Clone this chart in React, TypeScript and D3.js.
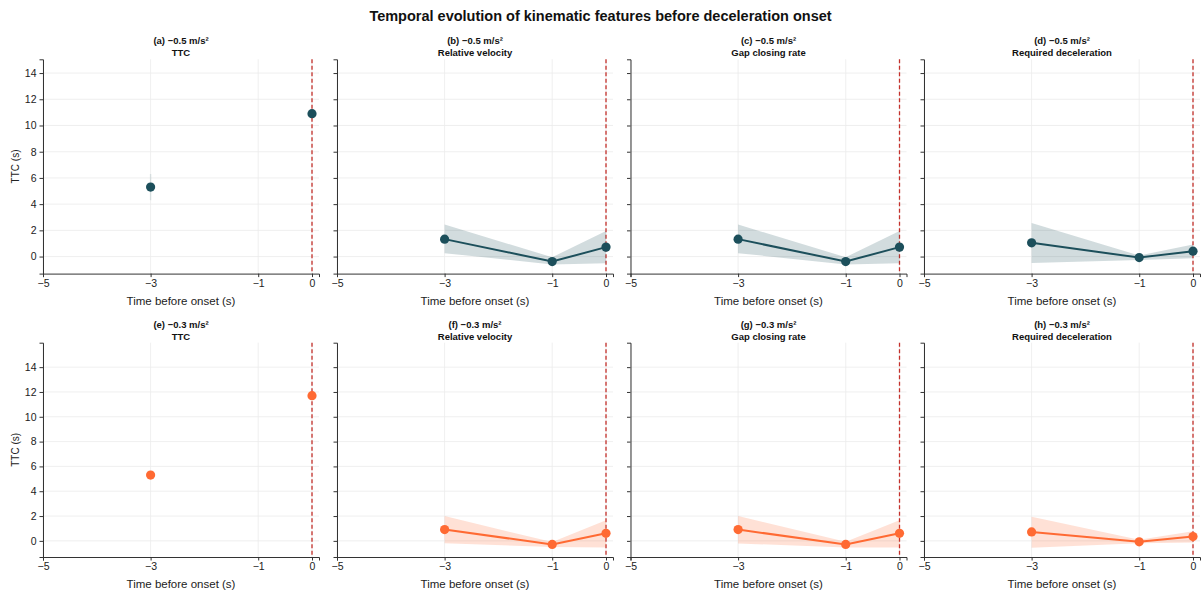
import React, { useRef, useEffect } from 'react';
import * as d3 from 'd3';

// time points (s before onset)
const timePoints = [-3, -1, 0];
const xTicks = [-5, -3, -1, 0];
const yTicks = [0, 2, 4, 6, 8, 10, 12, 14];

const rowLabels = ['−0.5 m/s²', '−0.3 m/s²'];
const featureNames = ['TTC', 'Relative velocity', 'Gap closing rate', 'Required deceleration'];
const panelLetters = [['a', 'b', 'c', 'd'], ['e', 'f', 'g', 'h']];
const rowColors = ['#1c4f5b', '#ff6a33'];
const rowYMax = [15.05, 15.97];

// TTC has values only at -3 and 0 (null = missing)
const ttcMean05 = [5.3, null, 10.9];
const ttcLow05 = [4.3, null, 10.9];
const ttcHigh05 = [6.3, null, 10.9];
const ttcMean03 = [5.3, null, 11.7];

// -0.5 m/s² row
const relVelMean05 = [1.33, -0.38, 0.72];
const relVelLow05 = [0.26, -0.6, -0.51];
const relVelHigh05 = [2.44, -0.05, 1.95];
const gapMean05 = [1.33, -0.38, 0.72];
const gapLow05 = [0.26, -0.6, -0.51];
const gapHigh05 = [2.44, -0.05, 1.95];
const reqDecMean05 = [1.05, -0.08, 0.41];
const reqDecLow05 = [-0.49, -0.26, -0.13];
const reqDecHigh05 = [2.56, 0.08, 0.92];

// -0.3 m/s² row
const relVelMean03 = [0.91, -0.29, 0.61];
const relVelLow03 = [-0.2, -0.5, -0.53];
const relVelHigh03 = [2.0, -0.1, 1.66];
const gapMean03 = [0.91, -0.29, 0.61];
const gapLow03 = [-0.21, -0.53, -0.53];
const gapHigh03 = [2.0, -0.08, 1.66];
const reqDecMean03 = [0.72, -0.08, 0.35];
const reqDecLow03 = [-0.56, -0.2, -0.13];
const reqDecHigh03 = [1.95, 0.1, 0.78];

type Panel = { mean: (number | null)[]; low?: (number | null)[]; high?: (number | null)[]; band?: boolean };

const panels: Panel[][] = [
  [
    { mean: ttcMean05, low: ttcLow05, high: ttcHigh05, band: false },
    { mean: relVelMean05, low: relVelLow05, high: relVelHigh05, band: true },
    { mean: gapMean05, low: gapLow05, high: gapHigh05, band: true },
    { mean: reqDecMean05, low: reqDecLow05, high: reqDecHigh05, band: true },
  ],
  [
    { mean: ttcMean03, band: false },
    { mean: relVelMean03, low: relVelLow03, high: relVelHigh03, band: true },
    { mean: gapMean03, low: gapLow03, high: gapHigh03, band: true },
    { mean: reqDecMean03, low: reqDecLow03, high: reqDecHigh03, band: true },
  ],
];

const W = 1201;
const H = 594;
const FONT = '"Liberation Sans", Arial, sans-serif';

const App = () => {
  const svgRef = useRef<SVGSVGElement>(null);

  useEffect(() => {
    const svg = d3.select(svgRef.current);
    svg.selectAll('*').remove();
    svg.attr('width', W).attr('height', H).style('font-family', FONT);

    svg.append('rect').attr('width', W).attr('height', H).attr('fill', '#fff');

    svg.append('text')
      .attr('x', W / 2).attr('y', 21)
      .attr('text-anchor', 'middle')
      .attr('font-size', 14.5).attr('font-weight', 'bold')
      .attr('fill', '#111')
      .text('Temporal evolution of kinematic features before deceleration onset');

    const colLeft = [43, 337, 630.5, 924];
    const plotW = 276;
    const rowTop = [59.3, 342.7];
    const plotH = 214.3;

    panels.forEach((row, r) => {
      const color = rowColors[r];
      const y = d3.scaleLinear().domain([-1.3, rowYMax[r]]).range([rowTop[r] + plotH, rowTop[r]]);

      row.forEach((p, c) => {
        const x = d3.scaleLinear().domain([-5, 0.13]).range([colLeft[c], colLeft[c] + plotW]);
        const g = svg.append('g');
        const x0 = colLeft[c];
        const y0 = rowTop[r] + plotH;

        // panel title
        g.append('text')
          .attr('x', x0 + plotW / 2).attr('y', rowTop[r] - 15)
          .attr('text-anchor', 'middle').attr('font-size', 9.5).attr('font-weight', 'bold')
          .attr('fill', '#111')
          .text(`(${panelLetters[r][c]}) ${rowLabels[r]}`);
        g.append('text')
          .attr('x', x0 + plotW / 2).attr('y', rowTop[r] - 3)
          .attr('text-anchor', 'middle').attr('font-size', 9.5).attr('font-weight', 'bold')
          .attr('fill', '#111')
          .text(featureNames[c]);

        // grid
        g.selectAll('.gy').data(yTicks).enter().append('line')
          .attr('x1', x0).attr('x2', x0 + plotW)
          .attr('y1', d => y(d)).attr('y2', d => y(d))
          .attr('stroke', '#ebebeb').attr('stroke-width', 0.8);
        g.selectAll('.gx').data(xTicks).enter().append('line')
          .attr('x1', d => x(d)).attr('x2', d => x(d))
          .attr('y1', rowTop[r]).attr('y2', y0)
          .attr('stroke', '#ebebeb').attr('stroke-width', 0.8);

        // onset line
        g.append('line')
          .attr('x1', x(0)).attr('x2', x(0))
          .attr('y1', rowTop[r]).attr('y2', y0)
          .attr('stroke', '#c4302b').attr('stroke-width', 1.3)
          .attr('stroke-dasharray', '4,2.5');

        const pts = timePoints
          .map((t, i) => ({ t, v: p.mean[i], lo: p.low ? p.low[i] : null, hi: p.high ? p.high[i] : null }))
          .filter(d => d.v !== null) as { t: number; v: number; lo: number | null; hi: number | null }[];

        if (p.band) {
          const area = d3.area<typeof pts[0]>()
            .x(d => x(d.t)).y0(d => y(d.lo as number)).y1(d => y(d.hi as number));
          g.append('path').datum(pts).attr('d', area)
            .attr('fill', color).attr('fill-opacity', 0.2);
          const line = d3.line<typeof pts[0]>().x(d => x(d.t)).y(d => y(d.v));
          g.append('path').datum(pts).attr('d', line)
            .attr('fill', 'none').attr('stroke', color).attr('stroke-width', 2);
        } else {
          // faint spread for single isolated points
          g.selectAll('.err').data(pts.filter(d => d.lo !== null && d.hi !== null && d.lo !== d.hi))
            .enter().append('line')
            .attr('x1', d => x(d.t)).attr('x2', d => x(d.t))
            .attr('y1', d => y(d.lo as number)).attr('y2', d => y(d.hi as number))
            .attr('stroke', color).attr('stroke-opacity', 0.12).attr('stroke-width', 1.5);
        }

        g.selectAll('.pt').data(pts).enter().append('circle')
          .attr('cx', d => x(d.t)).attr('cy', d => y(d.v))
          .attr('r', 4.6).attr('fill', color);

        // axes
        const yAxis = d3.axisLeft(y).tickValues(yTicks).tickSize(3.5).tickPadding(3)
          .tickFormat(c === 0 ? (d => String(d)) : () => '');
        const ya = g.append('g').attr('transform', `translate(${x0},0)`).call(yAxis);
        ya.select('.domain').attr('stroke', '#333').attr('stroke-width', 1);
        ya.selectAll('.tick line').attr('stroke', '#333');
        ya.selectAll('.tick text').attr('font-size', 10.5).attr('fill', '#222').style('font-family', FONT);

        const xAxis = d3.axisBottom(x).tickValues(xTicks).tickSize(3.5).tickPadding(2.5)
          .tickFormat(d => (d as number) < 0 ? '−' + Math.abs(d as number) : String(d));
        const xa = g.append('g').attr('transform', `translate(0,${y0})`).call(xAxis);
        xa.select('.domain').attr('stroke', '#333').attr('stroke-width', 1);
        xa.selectAll('.tick line').attr('stroke', '#333');
        xa.selectAll('.tick text').attr('font-size', 10.5).attr('fill', '#222').style('font-family', FONT);

        g.append('text')
          .attr('x', x0 + plotW / 2).attr('y', y0 + 31)
          .attr('text-anchor', 'middle').attr('font-size', 11.5).attr('fill', '#222')
          .text('Time before onset (s)');

        if (c === 0) {
          g.append('text')
            .attr('transform', `translate(${x0 - 24},${rowTop[r] + plotH / 2}) rotate(-90)`)
            .attr('text-anchor', 'middle').attr('font-size', 10).attr('fill', '#222')
            .text('TTC (s)');
        }
      });
    });
  }, []);

  return <svg ref={svgRef} style={{ display: 'block', position: 'absolute', left: 0, top: 0 }}></svg>;
};

export default App;
